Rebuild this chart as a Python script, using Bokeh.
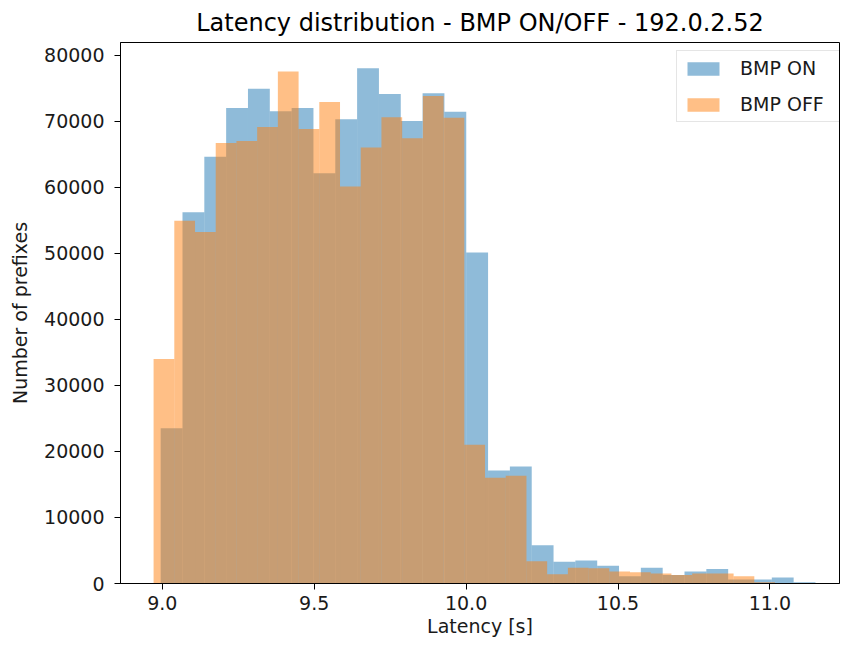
import numpy as np
from bokeh.plotting import figure
from bokeh.models import Range1d, FixedTicker, NumeralTickFormatter
from bokeh.embed import file_html
from bokeh.resources import INLINE

# ---- data ----
on_counts = [23500, 56200, 64600, 72000, 74900, 71500, 72000, 62100, 70300, 78000,
             74100, 70000, 74200, 71400, 50100, 17100, 17700, 5800, 3300, 3500,
             2700, 1100, 2400, 1300, 1800, 2200, 600, 600, 900, 200]
off_counts = [34000, 54900, 53200, 66700, 67000, 69100, 77500, 68800, 72900, 60100,
              66000, 70600, 67400, 73800, 70500, 21000, 16000, 16300, 3350, 1400,
              2400, 2300, 1800, 1700, 1500, 1300, 1500, 1500, 1100, 200]
on_min, on_max = 8.9947, 11.1499
off_min, off_max = 8.9714, 11.0168
x_limits = (8.8625, 11.229)
x_ticks = [9.0, 9.5, 10.0, 10.5, 11.0]
y_ticks = [0, 10000, 20000, 30000, 40000, 50000, 60000, 70000, 80000]
series_labels = ["BMP ON", "BMP OFF"]
title_text = "Latency distribution - BMP ON/OFF - 192.0.2.52"

on_edges = np.linspace(on_min, on_max, len(on_counts) + 1)
off_edges = np.linspace(off_min, off_max, len(off_counts) + 1)
ymax = max(max(on_counts), max(off_counts)) * 1.05

FONT = "DejaVu Sans"

p = figure(width=840, height=639, output_backend="svg", toolbar_location=None,
           x_range=Range1d(*x_limits),
           y_range=Range1d(0, ymax),
           min_border_left=120, min_border_right=1, min_border_top=42, min_border_bottom=55)

p.quad(left=on_edges[:-1], right=on_edges[1:], bottom=0, top=on_counts,
       fill_color="#1f77b4", fill_alpha=0.5, line_color=None, legend_label=series_labels[0])
p.quad(left=off_edges[:-1], right=off_edges[1:], bottom=0, top=off_counts,
       fill_color="#ff7f0e", fill_alpha=0.5, line_color=None, legend_label=series_labels[1])

p.title.text = title_text
p.title.text_font = FONT
p.title.text_font_size = "24px"
p.title.text_font_style = "normal"
p.title.text_color = "black"
p.title.align = "center"
p.title.standoff = 12
p.title.offset = 4

p.outline_line_color = "black"
p.outline_line_width = 1
p.outline_line_alpha = 1
p.xgrid.visible = False
p.ygrid.visible = False
p.background_fill_color = "white"
p.border_fill_color = "white"

p.xaxis.ticker = FixedTicker(ticks=x_ticks)
p.xaxis.formatter = NumeralTickFormatter(format="0.0")
p.yaxis.ticker = FixedTicker(ticks=y_ticks)
p.yaxis.formatter = NumeralTickFormatter(format="0")
p.xaxis.axis_label = "Latency [s]"
p.yaxis.axis_label = "Number of prefixes"

for ax in (p.xaxis, p.yaxis):
    ax.axis_line_color = "black"
    ax.major_tick_line_color = "black"
    ax.major_tick_out = 6
    ax.major_tick_in = 0
    ax.minor_tick_line_color = None
    ax.major_label_text_font = FONT
    ax.major_label_text_font_size = "19px"
    ax.major_label_text_color = "#1a1a1a"
    ax.axis_label_text_font = FONT
    ax.axis_label_text_font_size = "19px"
    ax.axis_label_text_font_style = "normal"
    ax.axis_label_text_color = "#1a1a1a"

p.xaxis.major_label_standoff = 6
p.yaxis.major_label_standoff = 10
p.xaxis.axis_label_standoff = 2
p.yaxis.axis_label_standoff = 10

lg = p.legend[0]
lg.location = (556, 461)
lg.margin = 0
lg.padding = 6
lg.spacing = 14
lg.glyph_width = 40
lg.glyph_height = 17
lg.label_height = 21
lg.label_width = 95
lg.label_standoff = 17
lg.label_text_font = FONT
lg.label_text_font_size = "19px"
lg.label_text_color = "#1a1a1a"
lg.border_line_color = "#cccccc"
lg.border_line_width = 1
lg.background_fill_color = "white"
lg.background_fill_alpha = 0.8

open("out.html", "w").write(file_html(p, INLINE))
